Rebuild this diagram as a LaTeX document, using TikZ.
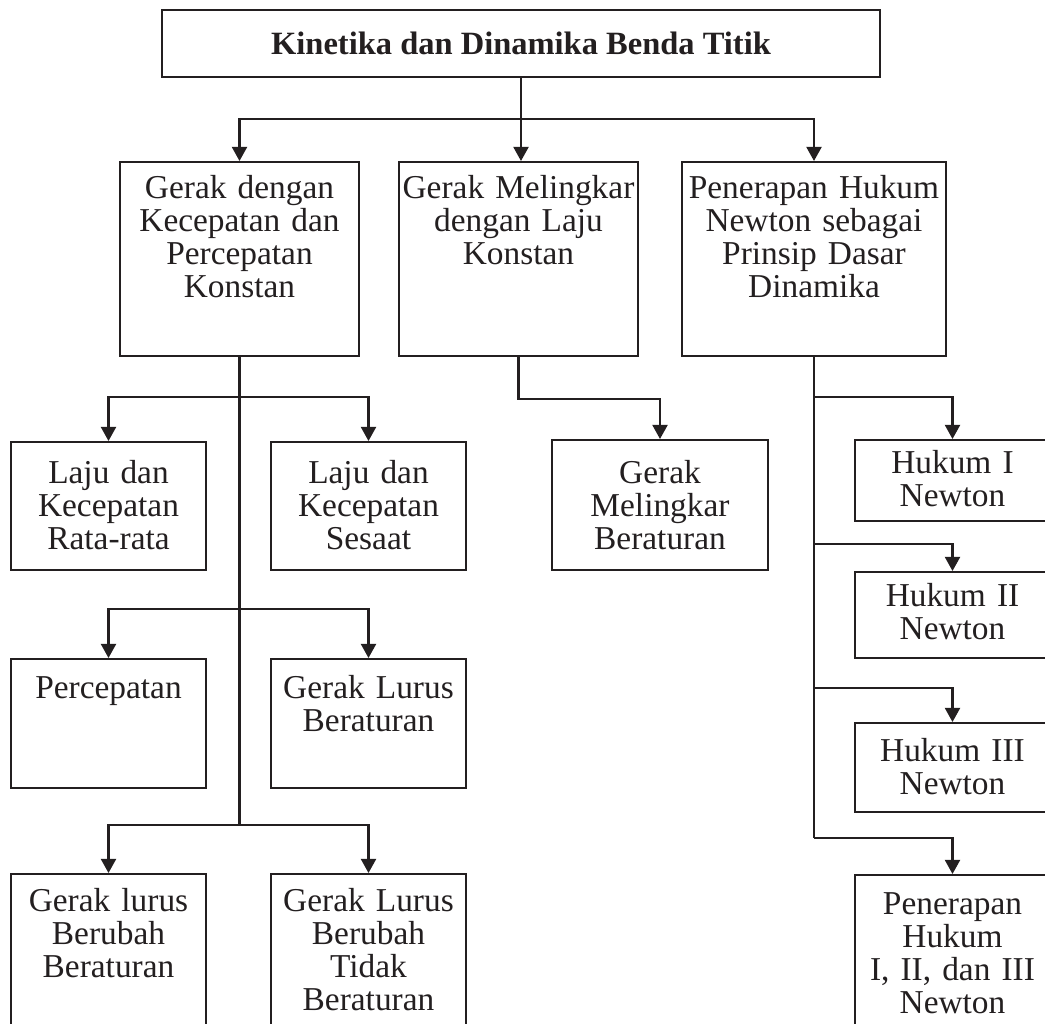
\documentclass[tikz,border=0pt]{standalone}
\usepackage{fontspec}
\setmainfont{Liberation Serif}
\usepackage{tikz}
\usetikzlibrary{arrows.meta, calc}
\definecolor{inkgray}{RGB}{35,31,32}
\newcommand{\Judul}{Kinetika dan Dinamika Benda Titik}

\begin{document}
\begin{tikzpicture}[
    x=0.02cm, y=-0.02cm,
    line width=1.3pt, draw=inkgray, text=inkgray,
    judul/.style={draw, minimum width=14.36cm, minimum height=1.34cm, font=\bfseries\fontsize{18.5}{19}\selectfont},
    kotak/.style={draw, anchor=north, align=center, inner xsep=0pt, inner ysep=0pt, font=\fontsize{19}{18.8}\selectfont},
    panah/.style={-{Triangle[length=8pt, width=8.5pt]}}
]
    \useasboundingbox (0,0) rectangle (1045,1024);
    \clip (0,0) rectangle (1045,1024);

    % Top level
    \node[judul] (judul) at (521,43.5) {\Judul};

    % Second level
    \node[kotak, text width=4.78cm, text height=0.72cm, text depth=3.16cm] (gerak1) at (239.5,161) {Gerak dengan\\ Kecepatan dan\\ Percepatan\\ Konstan};
    \node[kotak, text width=4.78cm, text height=0.72cm, text depth=3.16cm] (gerak2) at (518.5,161) {Gerak Melingkar\\ dengan Laju\\ Konstan};
    \node[kotak, text width=5.28cm, text height=0.72cm, text depth=3.16cm] (hukum) at (814,161) {Penerapan Hukum\\ Newton sebagai\\ Prinsip Dasar\\ Dinamika};

    % Left branch
    \node[kotak, text width=3.9cm, text height=0.82cm, text depth=1.74cm] (lajurata) at (108.5,441) {Laju dan\\ Kecepatan\\ Rata-rata};
    \node[kotak, text width=3.9cm, text height=0.82cm, text depth=1.74cm] (lajusesaat) at (368.5,441) {Laju dan\\ Kecepatan\\ Sesaat};
    \node[kotak, text width=3.9cm, text height=0.78cm, text depth=1.80cm] (percepatan) at (108.5,658) {Percepatan};
    \node[kotak, text width=3.9cm, text height=0.78cm, text depth=1.80cm] (glb) at (368.5,658) {Gerak Lurus\\ Beraturan};
    \node[kotak, text width=3.9cm, text height=0.74cm, text depth=2.7cm] (glbb) at (108.5,873) {Gerak lurus\\ Berubah\\ Beraturan};
    \node[kotak, text width=3.9cm, text height=0.74cm, text depth=2.7cm] (glbtb) at (368.5,873) {Gerak Lurus\\ Berubah\\ Tidak\\ Beraturan};

    % Middle branch
    \node[kotak, text width=4.32cm, text height=0.86cm, text depth=1.74cm] (gmb) at (660,439) {Gerak\\ Melingkar\\ Beraturan};

    % Right branch
    \node[kotak, text width=3.9cm, text height=0.66cm, text depth=0.96cm] (newton1) at (952.5,439) {Hukum I\\ Newton};
    \node[kotak, text width=3.9cm, text height=0.68cm, text depth=1.04cm] (newton2) at (952.5,571) {Hukum II\\ Newton};
    \node[kotak, text width=3.9cm, text height=0.76cm, text depth=1.02cm] (newton3) at (952.5,722) {Hukum III\\ Newton};
    \node[kotak, text width=3.9cm, text height=0.78cm, text depth=2.5cm] (terapan) at (952.5,874) {Penerapan\\ Hukum\\ I, II, dan III\\ Newton};

    % Connectors
    \coordinate (pusat) at ($(judul.south)+(0,41)$);
    \draw[panah] (judul.south) -- (judul.south |- gerak2.north);
    \draw[panah] (pusat) -| (gerak1.north);
    \draw[panah] (pusat) -| (hukum.north);

    \coordinate (kiri1) at (239.5,397);
    \coordinate (kiri2) at (239.5,609);
    \coordinate (kiri3) at (239.5,825);
    \draw (gerak1.south) -- (kiri3);
    \draw[panah] (kiri1) -| (lajurata.north);
    \draw[panah] (kiri1) -| (lajusesaat.north);
    \draw[panah] (kiri2) -| (percepatan.north);
    \draw[panah] (kiri2) -| (glb.north);
    \draw[panah] (kiri3) -| (glbb.north);
    \draw[panah] (kiri3) -| (glbtb.north);

    \draw[panah] (gerak2.south) -- ++(0,42) -| (gmb.north);

    \coordinate (kanan1) at (814,397);
    \coordinate (kanan2) at (814,544);
    \coordinate (kanan3) at (814,688);
    \coordinate (kanan4) at (814,838);
    \draw (hukum.south) -- (kanan4);
    \draw[panah] (kanan1) -| (newton1.north);
    \draw[panah] (kanan2) -| (newton2.north);
    \draw[panah] (kanan3) -| (newton3.north);
    \draw[panah] (kanan4) -| (terapan.north);
\end{tikzpicture}
\end{document}
